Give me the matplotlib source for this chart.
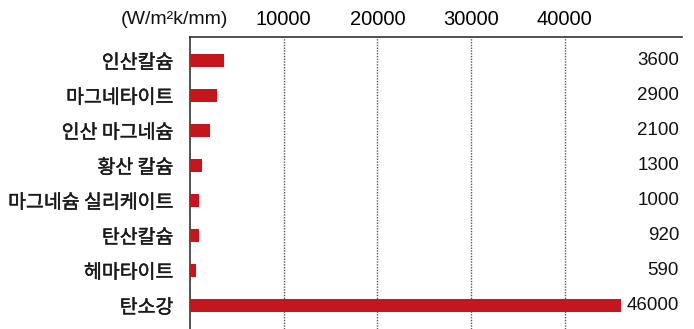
import matplotlib

matplotlib.use("Agg")
import matplotlib.pyplot as plt
import matplotlib.patheffects as pe
import matplotlib.transforms as mtransforms

# thermal conductance per material
materials = [
    "인산칼슘",
    "마그네타이트",
    "인산 마그네슘",
    "황산 칼슘",
    "마그네슘 실리케이트",
    "탄산칼슘",
    "헤마타이트",
    "탄소강",
]
values = [3600, 2900, 2100, 1300, 1000, 920, 590, 46000]
value_labels = ["3600", "2900", "2100", "1300", "1000", "920", "590", "46000"]
ticks = [10000, 20000, 30000, 40000]
tick_labels = ["10000", "20000", "30000", "40000"]
unit_label = "(W/m²k/mm)"

BAR_RED = "#c4161c"
NUM_FONT = ["Liberation Sans", "DejaVu Sans"]
KR_FONT = ["Noto Sans CJK KR", "DejaVu Sans"]

fig = plt.figure(figsize=(6.94, 3.29), dpi=100)
ax = fig.add_axes([190 / 694, 0.0, 492 / 694, 1 - 37 / 329])

y = list(range(len(materials)))
ax.barh(y, values, height=0.38, color=BAR_RED, zorder=3)

ax.set_xlim(0, 52500)
ax.set_ylim(len(materials) - 0.32, -0.67)

# dotted grid + numbers on top
ax.xaxis.tick_top()
ax.set_xticks(ticks)
ax.set_xticklabels(tick_labels, fontsize=14.5, family=NUM_FONT)
ax.tick_params(axis="x", length=0, pad=6)
ax.grid(axis="x", linestyle=(0, (1, 1)), color="#555555", linewidth=1.0, zorder=1)

# material names: regular weight thickened a little with a thin stroke
ax.set_yticks(y)
ax.set_yticklabels(materials, fontsize=14, family=KR_FONT, color="#1a1a1a")
for lab in ax.get_yticklabels():
    lab.set_path_effects([pe.withStroke(linewidth=0.3, foreground="#1a1a1a")])
ax.tick_params(axis="y", length=0, pad=12)

for side in ("right", "bottom"):
    ax.spines[side].set_visible(False)
for side in ("top", "left"):
    ax.spines[side].set_color("#333333")
    ax.spines[side].set_linewidth(1.2)

# value column at the right edge
trans = mtransforms.blended_transform_factory(ax.transAxes, ax.transData)
for yi, lab in zip(y, value_labels):
    ax.text(0.994, yi, lab, transform=trans, ha="right", va="center",
            fontsize=13.5, family=NUM_FONT, color="#111111")

fig.text(174 / 694, 1 - 20 / 329, unit_label, ha="center", va="center",
         fontsize=14, family=NUM_FONT, color="#111111")

fig.savefig("out.png", dpi=100)
